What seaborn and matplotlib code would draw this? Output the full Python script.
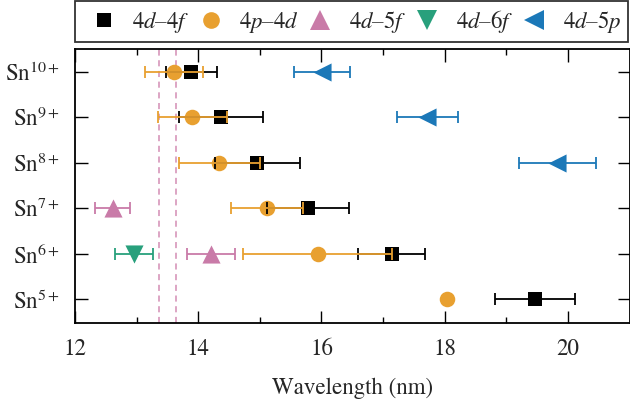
import numpy as np
import pandas as pd
import matplotlib
matplotlib.use("Agg")
import matplotlib.pyplot as plt
from matplotlib.lines import Line2D
import seaborn as sns

# ---- data ----
ions = ["Sn$^{5+}$", "Sn$^{6+}$", "Sn$^{7+}$", "Sn$^{8+}$", "Sn$^{9+}$", "Sn$^{10+}$"]

t44_ion = [0, 1, 2, 3, 4, 5]
t44_wl = [19.47, 17.14, 15.78, 14.96, 14.37, 13.89]
t44_err = [0.65, 0.54, 0.66, 0.69, 0.68, 0.41]

pd_ion = [0, 1, 2, 3, 4, 5]
pd_wl = [18.04, 15.94, 15.12, 14.34, 13.90, 13.61]
pd_err = [0.0, 1.21, 0.58, 0.66, 0.56, 0.47]

f5_ion = [1, 2]
f5_wl = [14.21, 12.61]
f5_err = [0.39, 0.28]

f6_ion = [1]
f6_wl = [12.96]
f6_err = [0.31]

p5_ion = [3, 4, 5]
p5_wl = [19.83, 17.72, 16.01]
p5_err = [0.63, 0.49, 0.46]

labels = ["$4d$–$4f$", "$4p$–$4d$", "$4d$–$5f$", "$4d$–$6f$", "$4d$–$5p$"]
vlines = [13.37, 13.64]

# ---- style ----
sns.set_theme(style="ticks")
plt.rcParams["font.family"] = ["STIXGeneral", "Liberation Serif", "DejaVu Serif"]
plt.rcParams["mathtext.fontset"] = "stix"

series = [
    (t44_ion, t44_wl, t44_err, "#000000", "s", 88, 10),
    (pd_ion, pd_wl, pd_err, "#E8A030", "o", 125, 12),
    (f5_ion, f5_wl, f5_err, "#C97BA8", "^", 170, 14),
    (f6_ion, f6_wl, f6_err, "#28A07C", "v", 170, 14),
    (p5_ion, p5_wl, p5_err, "#1B78B8", "<", 170, 14),
]

fig = plt.figure(figsize=(6.3, 4.08), dpi=100)
ax = fig.add_axes([75 / 630, 1 - 323 / 408, (629.5 - 75) / 630, (323 - 49) / 408])

for x in vlines:
    ax.axvline(x, color="#CC79A7", lw=1.1, ls=(0, (4, 3)), alpha=0.85, zorder=1)

handles = []
for (ion, wl, err, col, mk, s, lms), lab in zip(series, labels):
    df = pd.DataFrame({"ion": ion, "wl": wl, "err": err})
    sns.scatterplot(data=df, x="wl", y="ion", marker=mk, s=s, color=col,
                    edgecolor=col, linewidth=0, ax=ax, zorder=2, legend=False)
    e = df[df["err"] > 0]
    ax.errorbar(e["wl"], e["ion"], xerr=e["err"], fmt="none", ecolor=col,
                elinewidth=1.3, capsize=4.5, capthick=1.3, zorder=3)
    handles.append(Line2D([], [], ls="none", marker=mk, color=col,
                          markersize=lms, markeredgewidth=0, label=lab))

ax.set_xlim(12, 21)
ax.set_ylim(-0.52, 5.5)
ax.set_xticks([12, 14, 16, 18, 20])
ax.set_xticks([13, 15, 17, 19], minor=True)
ax.set_yticks(range(6))
ax.set_yticklabels(ions)
ax.set_xlabel("Wavelength (nm)", fontsize=16.5, labelpad=13)
ax.set_ylabel("")

ax.tick_params(axis="both", which="both", direction="in", top=True, right=True,
               labelsize=16.5, color="black", width=1.0)
ax.tick_params(axis="both", which="major", length=9)
ax.tick_params(axis="x", which="minor", length=4.5)
ax.tick_params(axis="x", which="major", pad=11)
ax.tick_params(axis="y", which="major", pad=11)
for sp in ax.spines.values():
    sp.set_visible(True)
    sp.set_linewidth(1.3)
    sp.set_color("black")

leg = fig.legend(handles=handles, loc="upper left", ncol=5,
                 bbox_to_anchor=(75 / 630, 1 - 1 / 408, (628 - 75) / 630, 0),
                 bbox_transform=fig.transFigure, mode="expand", borderaxespad=0,
                 fontsize=16.5, frameon=True, fancybox=False, handletextpad=0.3,
                 columnspacing=0.2, handlelength=1.9, borderpad=0.3)
leg.get_frame().set_edgecolor("black")
leg.get_frame().set_linewidth(1.3)

fig.savefig("out.png", dpi=100)
